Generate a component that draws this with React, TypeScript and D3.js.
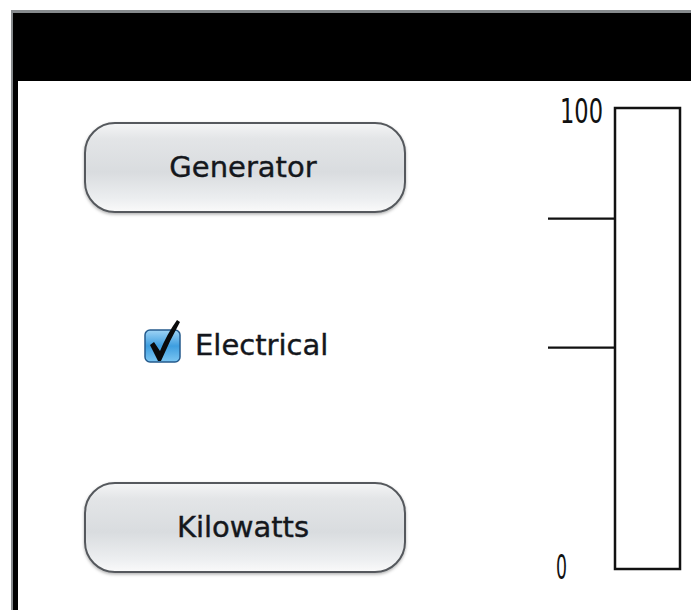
import React from "react";
import * as d3 from "d3";

// gauge scale and marks
const gaugeDomain = [0, 100];
const gaugeLabels = [0, 100];
const thresholdTicks = [48, 76];
const gaugeValue = 0;

const buttons = ["Generator", "Kilowatts"];
const checkLabel = "Electrical";
const checked = true;

const W = 691;
const H = 610;

const App = () => {
  const y = d3.scaleLinear().domain(gaugeDomain).range([569, 108]);
  const gx0 = 615;
  const gx1 = 680;
  const btnY = d3.scalePoint().domain(buttons).range([123, 483]);
  const font = "'DejaVu Sans', Verdana, sans-serif";

  return (
    <svg width={W} height={H} style={{ position: "absolute", left: 0, top: 0, background: "#fff" }}>
      <defs>
        <linearGradient id="btn" x1="0" y1="0" x2="0" y2="1">
          <stop offset="0" stopColor="#f4f5f6" />
          <stop offset="0.18" stopColor="#e3e5e7" />
          <stop offset="0.55" stopColor="#d9dcdf" />
          <stop offset="0.85" stopColor="#eceef0" />
          <stop offset="1" stopColor="#fafafa" />
        </linearGradient>
        <linearGradient id="chk" x1="0" y1="0" x2="0" y2="1">
          <stop offset="0" stopColor="#9fd4f5" />
          <stop offset="0.5" stopColor="#3e9ee0" />
          <stop offset="1" stopColor="#7cc6f2" />
        </linearGradient>
        <filter id="sh" x="-10%" y="-10%" width="120%" height="130%">
          <feDropShadow dx="0" dy="1.5" stdDeviation="1.5" floodColor="#000" floodOpacity="0.3" />
        </filter>
      </defs>

      {/* window frame */}
      <rect x={11} y={10} width={W} height={H} fill="#868a8d" />
      <rect x={13} y={13} width={W} height={H} fill="#000" />
      <rect x={18} y={81} width={W} height={H} fill="#fff" />

      {/* buttons */}
      {buttons.map((b) => (
        <g key={b} transform={`translate(85,${btnY(b)})`}>
          <rect
            width={320}
            height={89}
            rx={30}
            fill="url(#btn)"
            stroke="#55595d"
            strokeWidth={2}
            filter="url(#sh)"
          />
          <text
            x={158}
            y={54}
            textAnchor="middle"
            fontFamily={font}
            fontSize={29}
            fill="#14171c"
            stroke="#14171c"
            strokeWidth={0.4}
          >
            {b}
          </text>
        </g>
      ))}

      {/* checkbox */}
      <g transform="translate(145,330)">
        <rect width={35} height={32} rx={5} fill="url(#chk)" stroke="#245a8c" strokeWidth={1.5} />
        {checked && (
          <path
            d="M5,15 L9,12 L15,21 Q22,4 32,-10 L35,-8 Q25,10 16,31 L13,31 Z"
            fill="#0a0a0a"
          />
        )}
        <text
          x={50}
          y={25}
          fontFamily={font}
          fontSize={29}
          fill="#14171c"
          stroke="#14171c"
          strokeWidth={0.4}
        >
          {checkLabel}
        </text>
      </g>

      {/* gauge */}
      <rect
        x={gx0}
        y={y(gaugeDomain[1])}
        width={gx1 - gx0}
        height={y(gaugeDomain[0]) - y(gaugeDomain[1])}
        fill="#fff"
        stroke="#111"
        strokeWidth={2.5}
      />
      {gaugeValue > 0 && (
        <rect
          x={gx0}
          y={y(gaugeValue)}
          width={gx1 - gx0}
          height={y(0) - y(gaugeValue)}
          fill="#333"
        />
      )}
      {thresholdTicks.map((t) => (
        <line key={t} x1={548} x2={gx0} y1={y(t)} y2={y(t)} stroke="#111" strokeWidth={2.2} />
      ))}
      {gaugeLabels.map((v) => {
        const top = v === gaugeDomain[1];
        return (
          <text
            key={v}
            x={top ? 560 : 556}
            y={top ? y(v) + 15 : y(v) + 10}
            textLength={top ? 43 : 11}
            lengthAdjust="spacingAndGlyphs"
            fontFamily="'DejaVu Sans', sans-serif"
            fontSize={33}
            fill="#111"
          >
            {v}
          </text>
        );
      })}
    </svg>
  );
};

export default App;
